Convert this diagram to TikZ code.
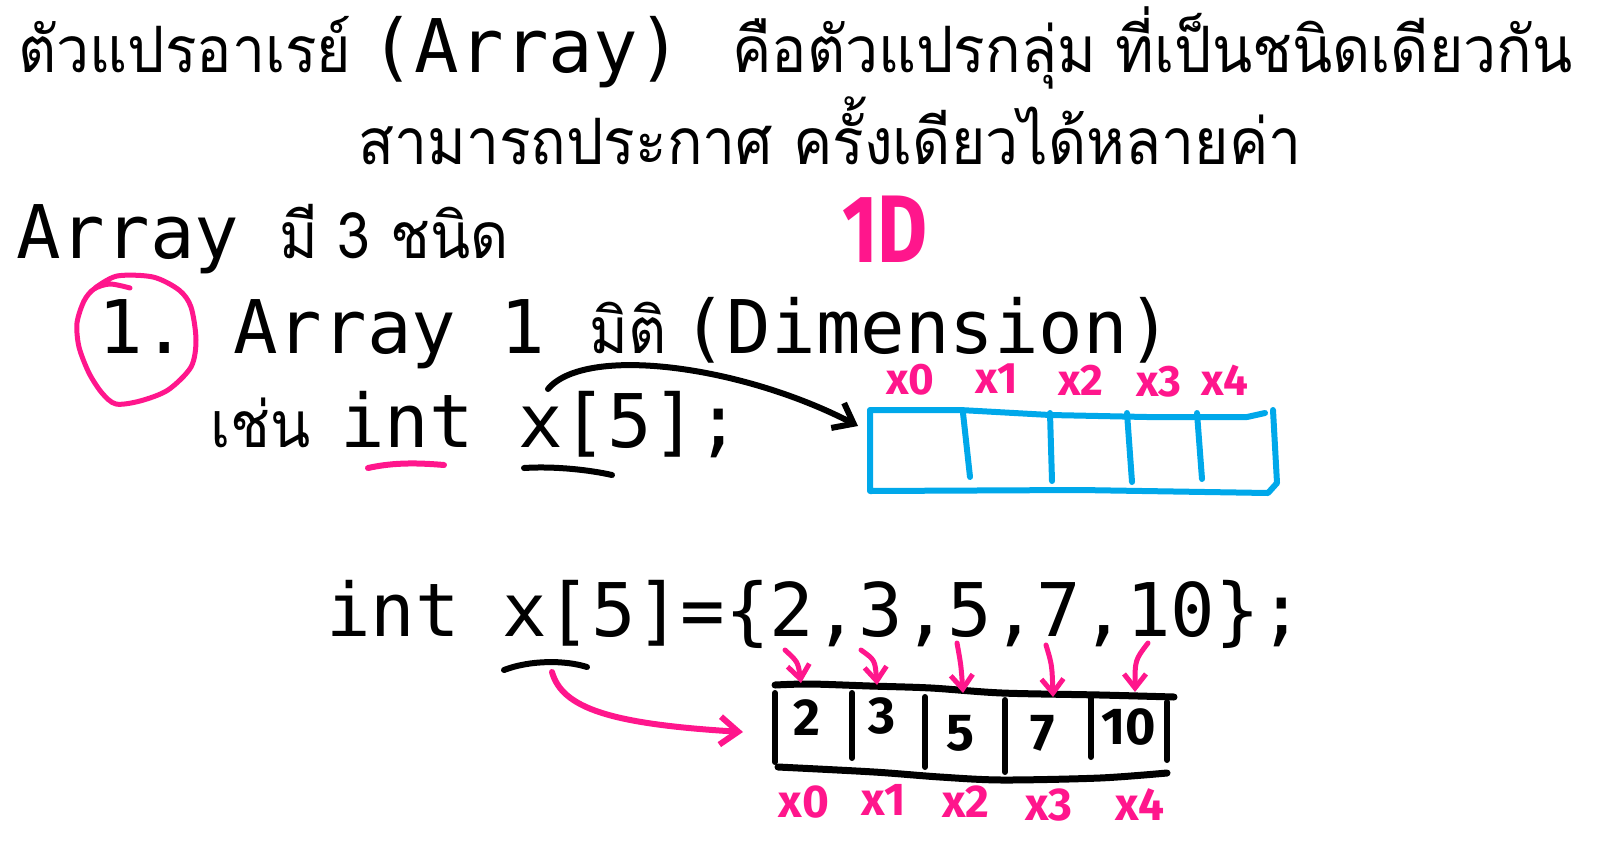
\documentclass[tikz,border=0pt]{standalone}
\usepackage{fontspec}
\usetikzlibrary{arrows.meta,calc}
\newfontfamily\thaifont[Script=Thai,FakeStretch=0.92]{Loma}
\newfontfamily\codefont{DejaVu Sans Mono}
\newfontfamily\handfont{Fira Sans}
\definecolor{Marker}{HTML}{FF168C}
\definecolor{Sky}{HTML}{00A8EA}
\tikzset{
  code/.style={font=\codefont\fontsize{37}{40}\selectfont,inner sep=0pt,anchor=base west},
  thai/.style={font=\thaifont\fontsize{32}{40}\selectfont,inner sep=0pt,anchor=base west},
  idx/.style={font=\handfont\bfseries\fontsize{22}{24}\selectfont,text=Marker,inner sep=0pt},
  digit/.style={font=\handfont\bfseries\fontsize{26}{28}\selectfont,inner sep=0pt},
  ink/.style={line width=3pt,line cap=round,line join=round},
  barb/.style={-{Straight Barb[length=9pt,width=14pt]}},
}

\begin{document}
\begin{tikzpicture}[x=0.5pt,y=-0.5pt]
\useasboundingbox (0,0) rectangle (1606,852);
% heading lines
\node[thai] (h1a) at (18,72) {ตัวแปรอาเรย์};
\node[code] (h1b) at (370,72) {(Array)};
\node[thai] (h1c) at (732,72) {คือตัวแปรกลุ่ม ที่เป็นชนิดเดียวกัน};
\node[thai] (h2) at (358,164) {สามารถประกาศ ครั้งเดียวได้หลายค่า};
\node[code] (kinds) at (16,258) {Array};
\node[thai] (kindsb) at (279,258) {มี 3 ชนิด};
\node[font=\handfont\bfseries\fontsize{48}{50}\selectfont,text=Marker,inner sep=0pt] (oneD) at (885,229) {\scalebox{0.8}[1]{1D}};
% 1. Array 1 มิติ
\node[code] (item) at (98,353) {1.};
\node[code] (itema) at (233,353) {Array 1};
\node[thai] (itemb) at (589,353) {มิติ};
\node[code] (itemc) at (682,353) {(Dimension)};
\draw[ink,Marker,line width=2.5pt] plot[smooth] coordinates {(130,288) (110,284) (94,289) (84,301) (77,323) (79,347) (89,373) (102,393) (116,404) (140,401) (168,390) (191,367) (196,340) (191,307) (179,290) (153,277) (117,276) (95,288)};
% int x[5];
\node[thai] (eg) at (210,447) {เช่น};
\node[code] (int1) at (340,447) {int};
\node[code] (var1) at (518,447) {x[5];};
\draw[ink,Marker] (368,468) .. controls (395,462) and (420,463) .. (444,465);
\draw[ink,black] (524,468) .. controls (555,466) and (590,470) .. (612,475);
% blue array
\draw[ink,Sky] plot coordinates {(870,410) (960,410) (1050,415) (1147,417) (1247,417) (1265,413)};
\draw[ink,Sky] plot coordinates {(1273,410) (1277,483) (1268,493) (1080,490) (870,491) (870,411)};
\foreach \xa/\xb/\yb in {963/970/477,1050/1052/481,1127/1132/482,1197/1202/479}
  \draw[ink,Sky] (\xa,413) -- (\xb,\yb);
\foreach \n/\px/\py in {0/910/380,1/997/379,2/1081/380,3/1159/382,4/1225/380}
  \node[idx] (top\n) at (\px,\py) {x\n};
\coordinate (from1) at (548,389);
\coordinate (box1) at (858,426);
\draw[ink,black,barb] (from1) .. controls (585,345) and (740,365) .. (box1);
% int x[5]={2,3,5,7,10};
\node[code] (int2) at (326,636) {int};
\node[code] (var2) at (502,636) {x[5]=\{2,3,5,7,10\};};
\draw[ink,black] (504,670) .. controls (530,660) and (565,660) .. (587,667);
% black array
\draw[ink,black,line width=3.5pt] plot[smooth] coordinates {(775,685) (810,684) (870,686) (931,688) (1002,693) (1100,695) (1174,697)};
\draw[ink,black,line width=3.5pt] plot[smooth] coordinates {(778,767) (874,772) (940,777) (1002,780) (1100,778) (1167,773)};
\draw[ink,black] (775,693) -- (775,762);
\draw[ink,black] (1167,702) -- (1167,760);
\foreach \xa/\ya/\yb in {852/693/758,925/697/767,1005/700/772,1091/698/757}
  \draw[ink,black] (\xa,\ya) -- (\xa,\yb);
\foreach \n/\v/\px/\py in {0/2/807/718,1/3/882/716,2/5/960/733,3/7/1043/733,4/10/1129/727}
  \node[digit] (val\n) at (\px,\py) {\v};
\foreach \n/\sx/\sy/\cx/\cy/\tx/\ty in {0/785/650/798/662/801/683,1/861/650/875/660/877/685,2/957/643/961/665/963/693,3/1046/645/1052/665/1053/697,4/1148/643/1135/660/1135/692} {
  \coordinate (src\n) at (\sx,\sy);
  \coordinate (cell\n) at (\tx,\ty);
  \draw[ink,Marker,line width=2.5pt,-{Straight Barb[length=7pt,width=11pt]}] (src\n) .. controls (\cx,\cy) .. (cell\n);
}
\foreach \n/\px/\py in {0/804/802,1/884/800,2/966/802,3/1049/805,4/1140/805}
  \node[idx,font=\handfont\bfseries\fontsize{23}{25}\selectfont] (bot\n) at (\px,\py) {x\n};
\coordinate (from2) at (552,672);
\coordinate (box2) at (743,732);
\draw[ink,Marker,barb] (from2) .. controls (562,708) and (610,724) .. (box2);
\end{tikzpicture}
\end{document}
